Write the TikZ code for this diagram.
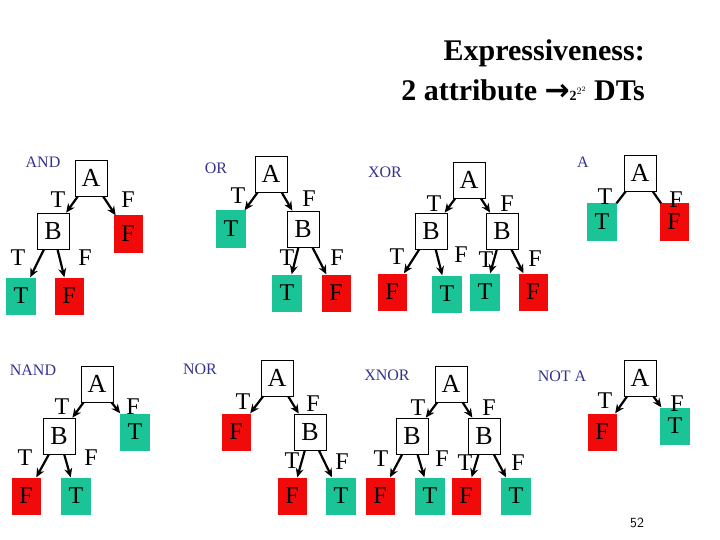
\documentclass[tikz,border=0pt]{standalone}
\usepackage{fontspec}
\setmainfont{Liberation Serif}
\newfontfamily\djv{DejaVu Sans}
\usetikzlibrary{arrows.meta}
\definecolor{tgreen}{RGB}{26,196,150}
\definecolor{fred}{RGB}{240,10,10}
\definecolor{lblue}{RGB}{51,51,140}
\begin{document}
\begin{tikzpicture}[x=1pt,y=-1pt,
  box/.style={draw,line width=0.8pt,fill=white,minimum width=32pt,minimum height=36pt,inner sep=0pt,font=\fontsize{26}{26}\selectfont},
  tl/.style={fill=tgreen,minimum width=30pt,minimum height=37pt,inner sep=0pt,font=\fontsize{24}{24}\selectfont},
  fl/.style={fill=fred,minimum width=29pt,minimum height=37pt,inner sep=0pt,font=\fontsize{24}{24}\selectfont},
  el/.style={inner sep=0pt,font=\fontsize{24}{24}\selectfont},
  gl/.style={inner sep=0pt,text=lblue,font=\fontsize{16}{16}\selectfont},
  arr/.style={line width=2.2pt,-{Stealth[length=9pt,width=8pt]}},
  ln/.style={line width=2.2pt}]
\useasboundingbox (0,0) rectangle (720,540);
% title
\node[inner sep=0pt,anchor=east,font=\bfseries\fontsize{30}{30}\selectfont] (t1) at (645,53) {Expressiveness:};
\node[inner sep=0pt,anchor=east,font=\bfseries\fontsize{30}{30}\selectfont] (t2) at (645,90) {2 attribute {\djv\bfseries →}{\fontsize{14}{14}\selectfont 2$^{2^{2}}$} DTs};
\node[inner sep=0pt,font=\sffamily\fontsize{14}{14}\selectfont] (pg) at (637,523) {52};
% AND
\node[gl] (andl) at (43,162) {AND};
\node[tl] (and1) at (21,296) {T};
\node[fl] (and2) at (69,296) {F};
\node[fl] (and3) at (128,234) {F};
\node[box] (andA) at (91,178) {A};
\node[box] (andB) at (53,231) {B};
\draw[arr] (andA) -- (andB); \draw[arr] (andA) -- (and3);
\draw[arr] (andB) -- (and1); \draw[arr] (andB) -- (and2);
\node[el] (andt1) at (58,200) {T}; \node[el] (andf1) at (128,200) {F};
\node[el] (andt2) at (18,258) {T}; \node[el] (andf2) at (85,258) {F};
% OR
\node[gl] (orl) at (216,168) {OR};
\node[tl] (or1) at (231,229) {T};
\node[tl] (or2) at (287,293) {T};
\node[fl] (or3) at (336,293) {F};
\node[box] (orA) at (271,174) {A};
\node[box] (orB) at (303,229) {B};
\draw[arr] (orA) -- (or1); \draw[arr] (orA) -- (orB);
\draw[arr] (orB) -- (or2); \draw[arr] (orB) -- (or3);
\node[el] (ort1) at (238,196) {T}; \node[el] (orf1) at (309,199) {F};
\node[el] (ort2) at (287,258) {T}; \node[el] (orf2) at (337,258) {F};
% XOR
\node[gl] (xorl) at (385,172) {XOR};
\node[fl] (xor1) at (392,292) {F};
\node[tl] (xor2) at (447,294) {T};
\node[tl] (xor3) at (485,292) {T};
\node[fl] (xor4) at (533,292) {F};
\node[box] (xorA) at (469,180) {A};
\node[box] (xorB1) at (431,231) {B};
\node[box] (xorB2) at (502,231) {B};
\draw[arr] (xorA) -- (xorB1); \draw[arr] (xorA) -- (xorB2);
\draw[arr] (xorB1) -- (xor1); \draw[arr] (xorB1) -- (xor2);
\draw[arr] (xorB2) -- (xor3); \draw[arr] (xorB2) -- (xor4);
\node[el] (xort1) at (434,204) {T}; \node[el] (xorf1) at (507,204) {F};
\node[el] (xort2) at (397,257) {T}; \node[el] (xorf2) at (461,255) {F};
\node[el] (xort3) at (486,260) {T}; \node[el] (xorf3) at (535,259) {F};
% A
\node[gl] (al) at (583,162) {A};
\node[tl] (a1) at (602,222) {T};
\node[fl] (a2) at (674,222) {F};
\node[box] (aA) at (640,173) {A};
\draw[ln] (aA) -- (a1); \draw[ln] (aA) -- (a2);
\node[el] (at1) at (605,197) {T}; \node[el] (af1) at (676,200) {F};
% NAND
\node[gl] (nandl) at (33,370) {NAND};
\node[fl] (nand1) at (26,496) {F};
\node[tl] (nand2) at (76,496) {T};
\node[tl] (nand3) at (135,432) {T};
\node[box] (nandA) at (97,384) {A};
\node[box] (nandB) at (59,436) {B};
\draw[arr] (nandA) -- (nandB); \draw[arr] (nandA) -- (nand3);
\draw[arr] (nandB) -- (nand1); \draw[arr] (nandB) -- (nand2);
\node[el] (nandt1) at (62,407) {T}; \node[el] (nandf1) at (133,407) {F};
\node[el] (nandt2) at (25,458) {T}; \node[el] (nandf2) at (91,458) {F};
% NOR
\node[gl] (norl) at (200,369) {NOR};
\node[fl] (nor1) at (236,432) {F};
\node[fl] (nor2) at (292,496) {F};
\node[tl] (nor3) at (341,496) {T};
\node[box] (norA) at (277,378) {A};
\node[box] (norB) at (310,432) {B};
\draw[arr] (norA) -- (nor1); \draw[arr] (norA) -- (norB);
\draw[arr] (norB) -- (nor2); \draw[arr] (norB) -- (nor3);
\node[el] (nort1) at (243,402) {T}; \node[el] (norf1) at (313,404) {F};
\node[el] (nort2) at (292,461) {T}; \node[el] (norf2) at (342,462) {F};
% XNOR
\node[gl] (xnorl) at (387,375) {XNOR};
\node[fl] (xn1) at (380,496) {F};
\node[tl] (xn2) at (430,496) {T};
\node[fl] (xn3) at (466,496) {F};
\node[tl] (xn4) at (516,496) {T};
\node[box] (xnA) at (451,384) {A};
\node[box] (xnB1) at (412,436) {B};
\node[box] (xnB2) at (484,436) {B};
\draw[arr] (xnA) -- (xnB1); \draw[arr] (xnA) -- (xnB2);
\draw[arr] (xnB1) -- (xn1); \draw[arr] (xnB1) -- (xn2);
\draw[arr] (xnB2) -- (xn3); \draw[arr] (xnB2) -- (xn4);
\node[el] (xnt1) at (418,408) {T}; \node[el] (xnf1) at (489,408) {F};
\node[el] (xnt2) at (381,459) {T}; \node[el] (xnf2) at (442,459) {F};
\node[el] (xnt3) at (465,463) {T}; \node[el] (xnf3) at (518,463) {F};
% NOT A
\node[gl] (notl) at (562,376) {NOT A};
\node[fl] (not1) at (602,432) {F};
\node[tl] (not2) at (675,426) {T};
\node[box] (notA) at (640,378) {A};
\draw[arr] (notA) -- (not1); \draw[arr] (notA) -- (not2);
\node[el] (nott1) at (605,401) {T}; \node[el] (notf1) at (677,404) {F};
\end{tikzpicture}
\end{document}
